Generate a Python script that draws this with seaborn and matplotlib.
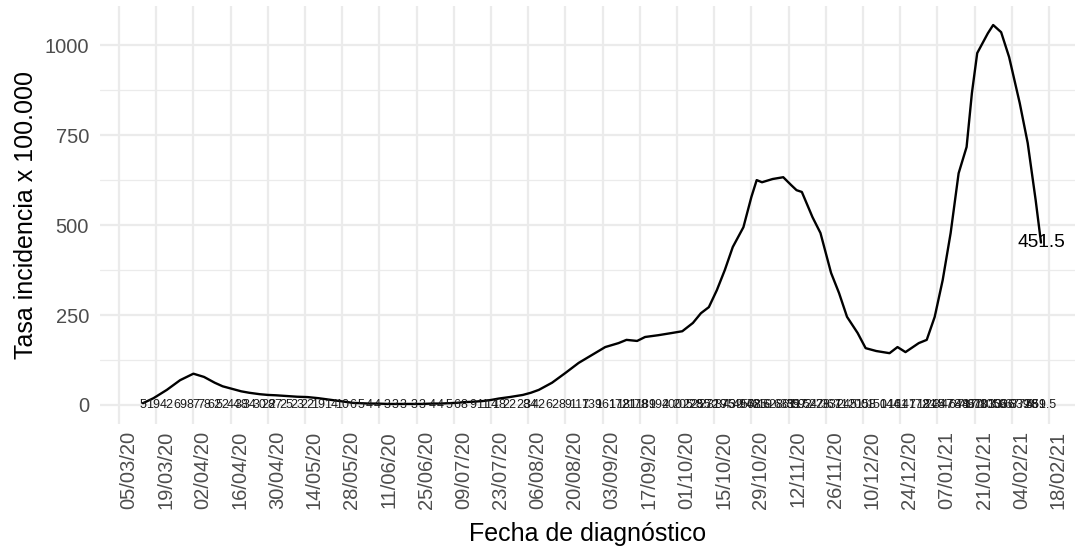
import pandas as pd
import matplotlib.pyplot as plt
import matplotlib.dates as mdates
import seaborn as sns

# Tasa de incidencia (x 100.000)
fechas = ['14/03/20', '18/03/20', '23/03/20', '28/03/20', '02/04/20', '06/04/20',
          '10/04/20', '13/04/20', '17/04/20', '20/04/20', '23/04/20', '27/04/20',
          '30/04/20', '03/05/20', '07/05/20', '11/05/20', '15/05/20', '19/05/20',
          '24/05/20', '28/05/20', '01/06/20', '04/06/20', '07/06/20', '10/06/20',
          '14/06/20', '17/06/20', '20/06/20', '24/06/20', '27/06/20', '01/07/20',
          '04/07/20', '07/07/20', '10/07/20', '13/07/20', '16/07/20', '20/07/20',
          '23/07/20', '26/07/20', '30/07/20', '04/08/20', '07/08/20', '10/08/20',
          '15/08/20', '20/08/20', '25/08/20', '30/08/20', '04/09/20', '09/09/20',
          '12/09/20', '16/09/20', '19/09/20', '24/09/20', '29/09/20', '03/10/20',
          '07/10/20', '10/10/20', '13/10/20', '16/10/20', '19/10/20', '22/10/20',
          '26/10/20', '29/10/20', '31/10/20', '02/11/20', '06/11/20', '10/11/20',
          '13/11/20', '15/11/20', '17/11/20', '21/11/20', '24/11/20', '28/11/20',
          '01/12/20', '04/12/20', '08/12/20', '11/12/20', '15/12/20', '20/12/20',
          '23/12/20', '26/12/20', '31/12/20', '03/01/21', '06/01/21', '09/01/21',
          '12/01/21', '15/01/21', '18/01/21', '20/01/21', '22/01/21', '26/01/21',
          '28/01/21', '31/01/21', '03/02/21', '07/02/21', '10/02/21', '13/02/21',
          '15/02/21']
tasa = [5, 19, 42, 69, 87, 78,
        62, 52, 44, 38, 34, 30,
        28, 27, 25, 23, 22, 19,
        14, 10, 6, 5, 4, 4,
        3, 3, 3, 3, 3, 4,
        4, 5, 6, 8, 9, 11,
        14, 18, 22, 28, 34, 42,
        62, 89, 117, 139, 161, 172,
        181, 178, 189, 194, 200, 205,
        228, 255, 272, 319, 375, 439,
        494, 578, 625, 619, 628, 633,
        611, 597, 592, 522, 478, 367,
        311, 245, 200, 158, 150, 144,
        161, 147, 172, 181, 245, 347,
        478, 644, 717, 867, 978, 1033,
        1056, 1036, 967, 839, 728, 569,
        451.5]

cortes_x = pd.date_range('2020-03-05', '2021-02-18', freq='14D')

df = pd.DataFrame({'fecha': pd.to_datetime(fechas, format='%d/%m/%y'),
                   'tasa': tasa})

sns.set_theme(style='white')
plt.rcParams['font.family'] = ['Liberation Sans', 'DejaVu Sans']

fig = plt.figure(figsize=(10.77, 5.48), dpi=100)
ax = fig.add_axes([100 / 1077, 1 - 424 / 548, 975 / 1077, 418 / 548])

sns.lineplot(data=df, x='fecha', y='tasa', color='black', linewidth=1.7, ax=ax)

# etiquetas en y = 0 (se solapan, como en el original)
for f, v in zip(df['fecha'], df['tasa']):
    ax.text(f, 0, '{:g}'.format(v), fontsize=9, ha='center', va='center',
            color='#1a1a1a')

ult = df.iloc[-1]
ax.text(ult['fecha'], ult['tasa'], '{:g}'.format(ult['tasa']), fontsize=13.8,
        ha='center', va='center', color='black')

inicio = pd.Timestamp('2020-03-05')
ax.set_xlim(inicio - pd.Timedelta(days=7.15), inicio + pd.Timedelta(days=359.8))
ax.set_ylim(-52.8, 1108.8)
ax.set_xticks(cortes_x)
ax.xaxis.set_major_formatter(mdates.DateFormatter('%d/%m/%y'))
ax.set_yticks([0, 250, 500, 750, 1000])
ax.set_yticks([125, 375, 625, 875], minor=True)

for s in ax.spines.values():
    s.set_visible(False)
ax.set_axisbelow(True)
ax.grid(which='major', color='#EBEBEB', linewidth=1.6)
ax.grid(which='minor', axis='y', color='#EBEBEB', linewidth=0.9)

ax.tick_params(axis='both', which='both', length=0, labelsize=14.5,
               labelcolor='#4D4D4D')
ax.tick_params(axis='y', pad=8)
ax.tick_params(axis='x', pad=5)
plt.setp(ax.get_xticklabels(), rotation=90, ha='left', va='top')

ax.set_xlabel('Fecha de diagnóstico', fontsize=18, color='black')
ax.set_ylabel('Tasa incidencia x 100.000', fontsize=18, color='black')
ax.xaxis.set_label_coords(0.5, -0.235)
ax.yaxis.set_label_coords(-0.064, 0.5)

fig.savefig('out.png', dpi=100)
